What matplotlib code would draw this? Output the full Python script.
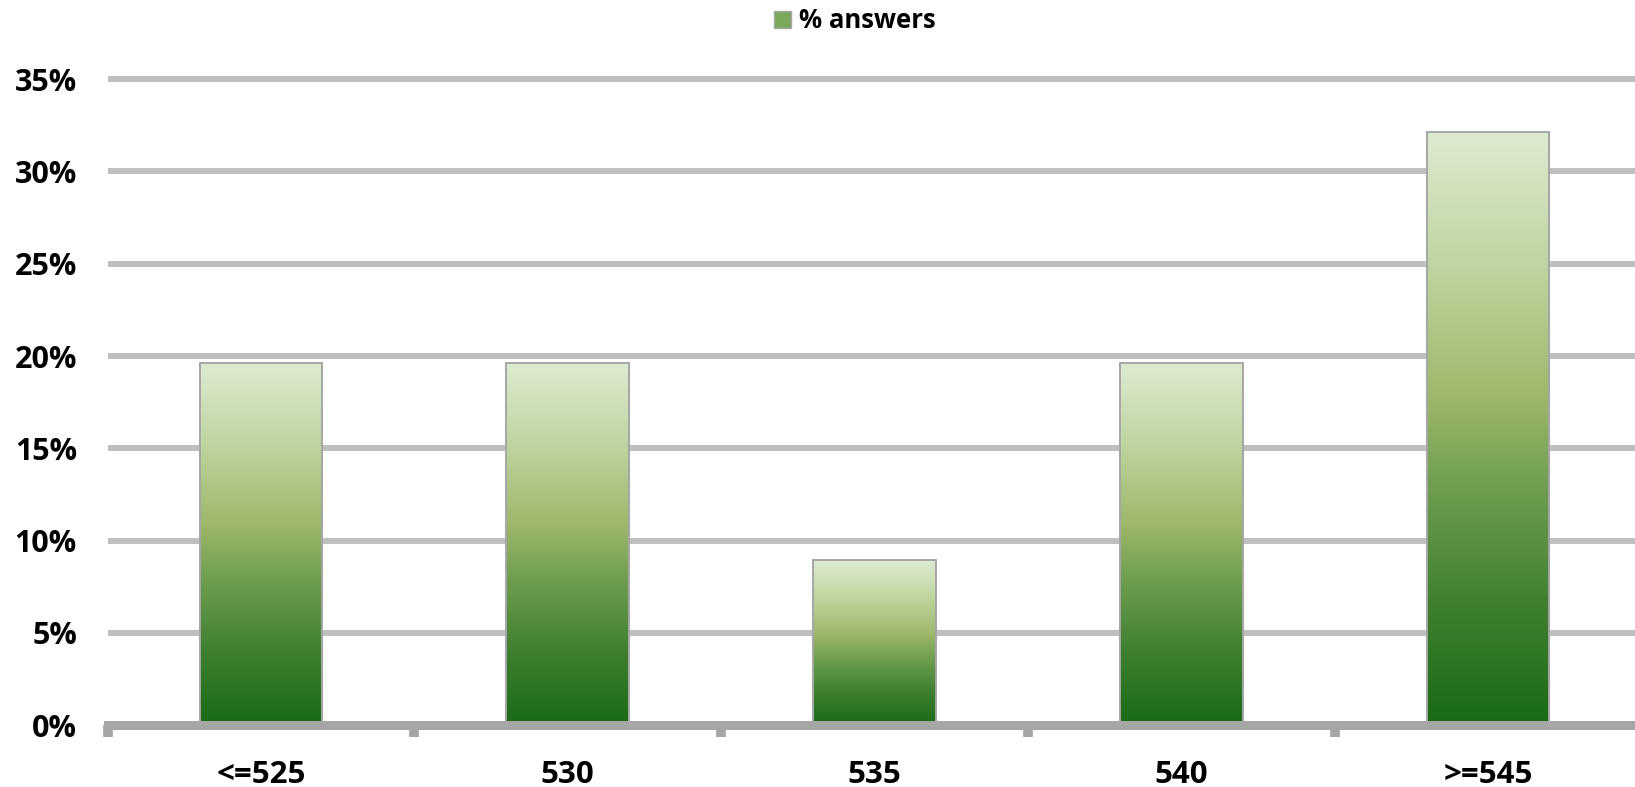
import numpy as np
import matplotlib
matplotlib.use("Agg")
import matplotlib.pyplot as plt
from matplotlib.colors import LinearSegmentedColormap
from matplotlib.patches import Patch
from matplotlib.ticker import FixedLocator, FuncFormatter

categories = ["<=525", "530", "535", "540", ">=545"]
values = [19.64, 19.64, 8.93, 19.64, 32.14]  # percent of answers
series_name = "% answers"
y_ticks = [0, 5, 10, 15, 20, 25, 30, 35]

plt.rcParams['font.family'] = ['Open Sans', 'DejaVu Sans']

W, H = 1635, 787
fig = plt.figure(figsize=(W / 100, H / 100), dpi=100)
left_px, right_px = 107.5, 1641.5
top_px, bottom_px = 69.8, 725.3
ax = fig.add_axes([left_px / W, 1 - bottom_px / H,
                   (right_px - left_px) / W, (bottom_px - top_px) / H])

cmap = LinearSegmentedColormap.from_list(
    "g", [(0.0, "#1A6A17"), (0.2, "#3E8030"), (0.4, "#6E9E50"),
          (0.55, "#9DB76B"), (0.75, "#BCD29A"), (1.0, "#DEEBD1")])
grad = np.linspace(0, 1, 256).reshape(-1, 1)

x = np.arange(len(categories))
bars = ax.bar(x, values, width=0.4, facecolor="none", edgecolor="#A6A6A6",
              linewidth=1.4, zorder=3)
for b in bars:
    x0, y0 = b.get_x(), b.get_y()
    w, h = b.get_width(), b.get_height()
    im = ax.imshow(grad, cmap=cmap, origin="lower", aspect="auto",
                   extent=[x0, x0 + w, y0, y0 + h], zorder=2,
                   interpolation="bilinear")
    im.set_clip_path(b)

ax.set_xlim(-0.5, len(categories) - 0.5)
ax.set_ylim(0, 35.5)

ax.yaxis.set_major_locator(FixedLocator(y_ticks))
ax.yaxis.set_major_formatter(FuncFormatter(lambda v, p: f"{int(v)}%"))
ax.grid(axis="y", color="#BFBFBF", linewidth=4.3, zorder=0)
ax.set_axisbelow(True)

ax.set_xticks(x)
ax.set_xticklabels(categories)
ax.set_xticks(np.arange(len(categories) + 1) - 0.5, minor=True)
ax.tick_params(axis="x", which="major", length=0, pad=25,
               labelsize=22.5)
ax.tick_params(axis="x", which="minor", length=8.6, width=7,
               color="#A6A6A6", direction="out")
ax.tick_params(axis="y", length=0, pad=22, labelsize=22)
for lab in ax.get_xticklabels() + ax.get_yticklabels():
    lab.set_fontweight("bold")

for s in ["top", "right", "left"]:
    ax.spines[s].set_visible(False)
ax.spines["bottom"].set_color("#A6A6A6")
ax.spines["bottom"].set_linewidth(6.5)
ax.spines["bottom"].set_zorder(4)

handle = Patch(facecolor="#7BA85A", edgecolor="#A6A6A6", linewidth=1.0)
fig.legend([handle], [series_name], loc="center",
           bbox_to_anchor=(855 / W, 1 - 21 / H), frameon=False,
           prop={"weight": "bold", "size": 18.5}, handlelength=0.65,
           handleheight=0.65, handletextpad=0.3)

fig.savefig("out.png", dpi=100)
